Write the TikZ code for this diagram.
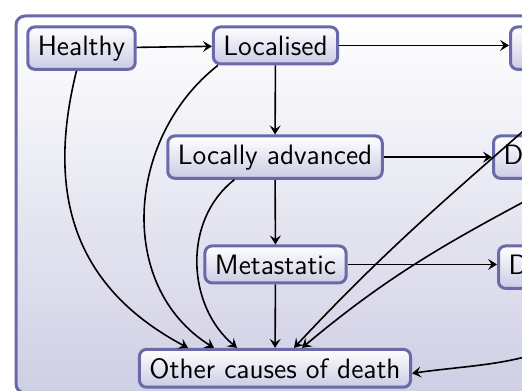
\documentclass[tikz,border=0pt]{standalone}
\usetikzlibrary{positioning,calc,arrows.meta}
\definecolor{stateframe}{HTML}{6A6AAA}
\definecolor{statefill}{HTML}{CBCBE5}
\definecolor{panelfill}{HTML}{CFCFE5}

\tikzset{
  state/.style={draw=stateframe, line width=1.5pt, rounded corners=3.5pt,
    top color=white, bottom color=statefill, anchor=base,
    inner xsep=5pt, inner ysep=4.3pt,
    font=\sffamily\fontsize{14}{16}\selectfont},
  panel/.style={draw=stateframe, line width=1.5pt, rounded corners=4.5pt,
    top color=white, bottom color=panelfill},
  link/.style={-{Stealth[length=4.5pt,width=5.5pt,inset=1.8pt]}, line width=0.8pt}
}

\begin{document}
\begin{tikzpicture}[x=0.5pt,y=0.5pt]
  \useasboundingbox (0,0) rectangle (522,-390);
  \clip (0,0) rectangle (522,-390);
  % background panel
  \draw[panel] (16,-16) rectangle (560,-393);
  % disease states
  \node[state] (healthy) at (81.5,-55) {Healthy};
  \node[state] (localised) at (275.5,-55) {Localised};
  \node[state] (advanced) at (275,-164) {Locally advanced};
  \node[state] (metastatic) at (275.5,-274) {Metastatic};
  \node[state] (other) at (275,-378) {Other causes of death};
  % diagnosed states (right column)
  \node[state, anchor=base west] (dlocal) at (509,-55) {Diagnosed localised};
  \node[state, anchor=base west] (dadvanced) at (492,-164) {Diagnosed locally advanced};
  \node[state, anchor=base west] (dmeta) at (497,-274) {Diagnosed metastatic};
  % progression
  \draw[link] (healthy) -- (localised);
  \draw[link] (localised) -- (dlocal.west |- localised);
  \draw[link] (localised) -- (advanced);
  \draw[link] (advanced) -- (dadvanced.west |- advanced);
  \draw[link] (advanced) -- (metastatic);
  \draw[link] (metastatic) -- (dmeta.west |- metastatic);
  \draw[link] (metastatic) -- (other);
  % other causes of death
  \draw[link] ($(healthy.south)+(-5,0)$) to[out=256,in=152,looseness=1.1] ($(other.north)+(-87,0)$);
  \draw[link] ($(localised.south west)+(6,0)$) to[out=218,in=148,looseness=1.05] ($(other.north)+(-61,0)$);
  \draw[link] ($(advanced.south west)+(68,0)$) to[out=218,in=140] ($(other.north)+(-38,0)$);
  \draw[link] ($(dlocal.south west)+(82,0)$) to[out=222,in=47] ($(other.north)+(19,0)$);
  \draw[link] ($(dadvanced.south west)+(73,0)$) to[out=208,in=40] ($(other.north)+(27,0)$);
  \draw[link] ($(dmeta.south west)+(113,0)$) to[out=245,in=8] ($(other.east)+(0,-5)$);
\end{tikzpicture}
\end{document}
